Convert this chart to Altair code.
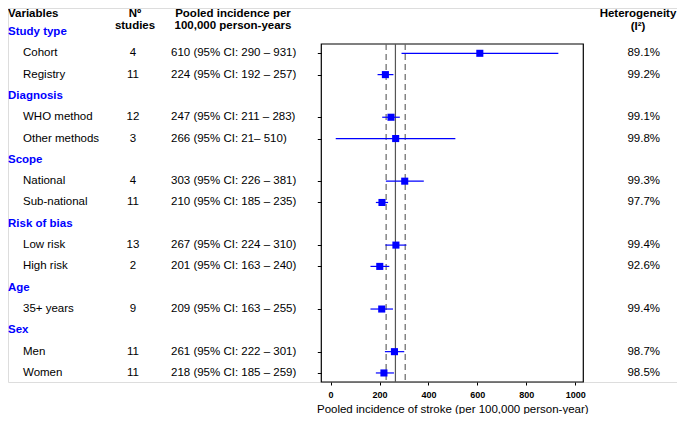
import altair as alt
import pandas as pd

# ---- data ----
groups = ["Study type", "Diagnosis", "Scope", "Risk of bias", "Age", "Sex"]
group_sizes = [2, 2, 2, 2, 1, 2]
labels = ["Cohort", "Registry", "WHO method", "Other methods", "National", "Sub-national",
          "Low risk", "High risk", "35+ years", "Men", "Women"]
n_studies = [4, 11, 12, 3, 4, 11, 13, 2, 9, 11, 11]
pooled = [610, 224, 247, 266, 303, 210, 267, 201, 209, 261, 218]
ci_lo = [290, 192, 211, 21, 226, 185, 224, 163, 163, 222, 185]
ci_hi = [931, 257, 283, 510, 381, 235, 310, 240, 255, 301, 259]
het = [89.1, 99.2, 99.1, 99.8, 99.3, 97.7, 99.4, 92.6, 99.4, 98.7, 98.5]
overall = 265
overall_lo = 227
overall_hi = 305
x_ticks = [0, 200, 400, 600, 800, 1000]

# ---- build tables ----
hdr_rows, data_rows = [], []
r = 0
k = 0
for g, sz in zip(groups, group_sizes):
    hdr_rows.append({"r": r, "text": g})
    r += 1
    for _ in range(sz):
        data_rows.append({
            "r": r, "label": labels[k], "n": str(n_studies[k]),
            "pooled": pooled[k], "lo": ci_lo[k], "hi": ci_hi[k],
            "ptext": f"{pooled[k]} (95% CI: {ci_lo[k]} \u2013 {ci_hi[k]})",
            "het": f"{het[k]:.1f}%",
        })
        r += 1
        k += 1
for d in data_rows:
    if d["label"] == "Other methods":
        d["ptext"] = f"{d['pooled']} (95% CI: {d['lo']}\u2013 {d['hi']})"

hdr_df = pd.DataFrame(hdr_rows)
df = pd.DataFrame(data_rows)

FONT = "Liberation Sans"
BLUE = "#0000ff"
FS = 11.5

Y_DOM = [-1.126, 16.424]
FRAME_TOP = 0.563
X_DOM = [-38, 1033]
X_RANGE = [313.3, 575.3]

xs = alt.Scale(domain=X_DOM, range=X_RANGE, nice=False, zero=False)
ys = alt.Scale(domain=Y_DOM, reverse=True, nice=False, zero=False)

XA = alt.Axis(values=x_ticks, format="d", labelFont=FONT, labelFontSize=9, labelFontWeight="bold",
              labelColor="black", tickColor="black", tickSize=3, domain=False, grid=False,
              labelPadding=5, title="Pooled incidence of stroke (per 100,000 person-year)",
              titleFont=FONT, titleFontSize=11.5, titleFontWeight="normal", titleColor="black",
              titlePadding=4)
YA = alt.Axis(values=[int(v) for v in df["r"]], labels=False, domain=False, grid=False,
              ticks=True, tickSize=4, tickColor="black", offset=-313.3, title=None)

base = alt.Chart(df)

frame = alt.Chart(pd.DataFrame({"a": [0]})).mark_rect(
    fill="transparent", stroke="black", strokeWidth=1.2).encode(
    x=alt.X(datum=X_DOM[0], scale=xs, axis=XA),
    x2=alt.X2(datum=X_DOM[1]),
    y=alt.Y(datum=FRAME_TOP, scale=ys, axis=YA),
    y2=alt.Y2(datum=Y_DOM[1]),
)

dashed = alt.Chart(pd.DataFrame({"v": [overall_lo, overall_hi]})).mark_rule(
    color="#666666", strokeDash=[6, 4], strokeWidth=1.2).encode(
    x=alt.X("v:Q", scale=xs, axis=XA),
    y=alt.Y(datum=FRAME_TOP, scale=ys, axis=YA),
    y2=alt.Y2(datum=Y_DOM[1]),
)
solid = alt.Chart(pd.DataFrame({"v": [overall]})).mark_rule(
    color="#555555", strokeWidth=1.2).encode(
    x=alt.X("v:Q", scale=xs, axis=XA),
    y=alt.Y(datum=FRAME_TOP, scale=ys, axis=YA),
    y2=alt.Y2(datum=Y_DOM[1]),
)

ci = base.mark_rule(color=BLUE, strokeWidth=1.2).encode(
    x=alt.X("lo:Q", scale=xs, axis=XA),
    x2="hi:Q",
    y=alt.Y("r:Q", scale=ys, axis=YA),
)
pts = base.mark_square(color=BLUE, size=50, opacity=1).encode(
    x=alt.X("pooled:Q", scale=xs, axis=XA),
    y=alt.Y("r:Q", scale=ys, axis=YA),
)

def col_text(field, xpx, align="left", color="black", weight="normal", data=None):
    d = base if data is None else alt.Chart(data)
    return d.mark_text(align=align, baseline="middle", font=FONT, fontSize=FS,
                       color=color, fontWeight=weight).encode(
        x=alt.value(xpx),
        y=alt.Y("r:Q", scale=ys, axis=YA),
        text=f"{field}:N",
    )

t_groups = col_text("text", 0, color=BLUE, weight="bold", data=hdr_df)
t_labels = col_text("label", 15)
t_n = col_text("n", 125, align="center")
t_pooled = col_text("ptext", 163)
t_het = col_text("het", 652, align="right")

def header(text, xpx, ypx, align="center"):
    return alt.Chart(pd.DataFrame({"t": [text]})).mark_text(
        align=align, baseline="middle", font=FONT, fontSize=FS, fontWeight="bold",
        color="black").encode(x=alt.value(xpx), y=alt.value(ypx), text="t:N")

headers = [
    header("Variables", 0, 6, align="left"),
    header("N\u00ba", 127, 6),
    header("studies", 127, 18),
    header("Pooled incidence per", 225, 6),
    header("100,000 person-years", 225, 18),
    header("Heterogeneity", 630, 6),
    header("(I\u00b2)", 630, 19),
]

chart = alt.layer(
    frame, dashed, solid, ci, pts, t_groups, t_labels, t_n, t_pooled, t_het, *headers
).properties(
    width=669, height=374,
    autosize=alt.AutoSizeParams(type="none"),
    padding={"left": 0, "top": 0, "right": 0, "bottom": 32},
).configure_view(stroke=None).configure(background="white")

chart.save("out.html", embed_options={"renderer": "svg", "actions": False})
